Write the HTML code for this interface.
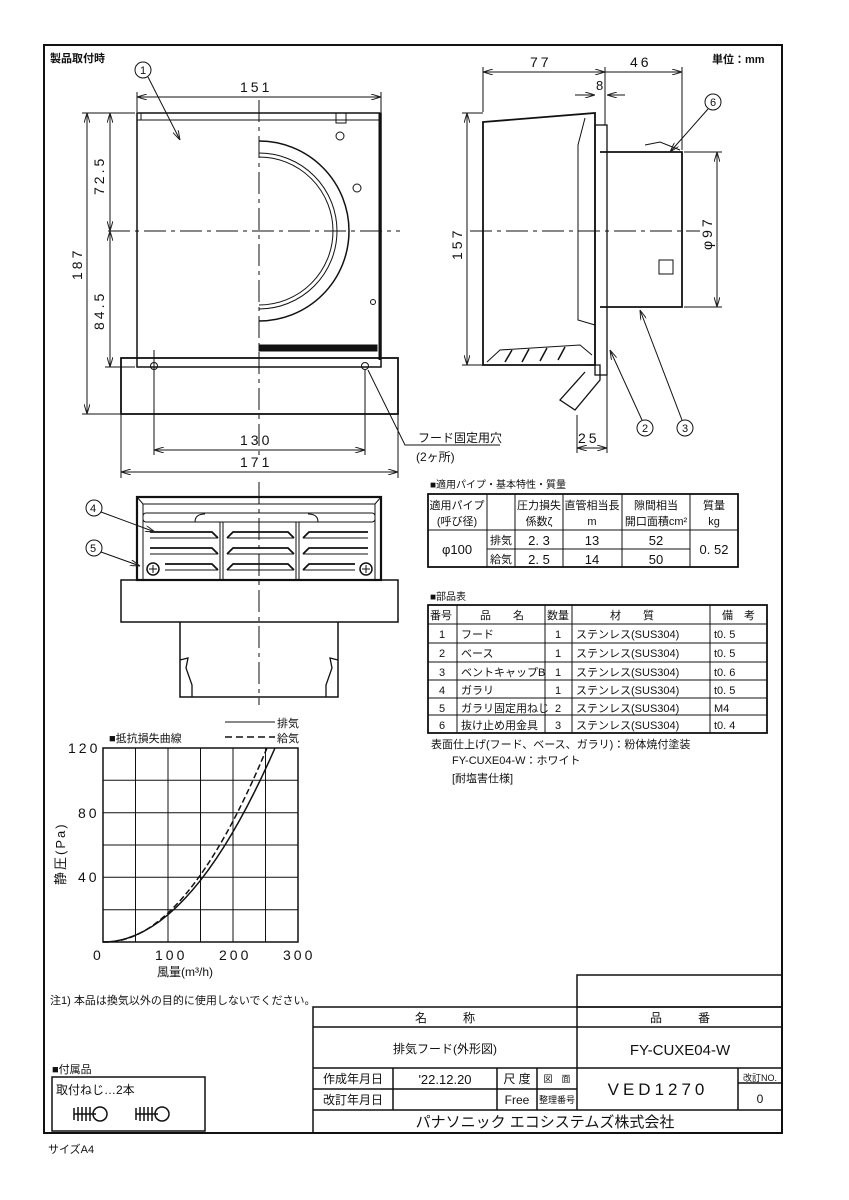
<!DOCTYPE html>
<html><head><meta charset="utf-8"><style>
html,body{margin:0;padding:0;background:#fff;}
svg{display:block;}
text{font-family:"Liberation Sans","Noto Sans CJK JP",sans-serif;fill:#111;}
.t{font-size:11px;}
.n{font-size:14px;letter-spacing:3px;}
</style></head><body>
<svg width="849" height="1200" viewBox="0 0 849 1200" xmlns="http://www.w3.org/2000/svg">
<defs>
<marker id="a" markerWidth="10" markerHeight="6" refX="10" refY="3" orient="auto-start-reverse" markerUnits="userSpaceOnUse"><path d="M0,0 L10,3 L0,6" fill="none" stroke="#222" stroke-width="1"/></marker>
</defs>
<g fill="none" stroke="#111">
<rect x="44" y="45" width="738" height="1088" stroke-width="2"/>
</g>
<text x="50" y="62" class="t" font-weight="bold">製品取付時</text>
<text x="712" y="63" class="t" font-weight="bold">単位：mm</text>

<!-- FRONT VIEW -->
<g fill="none" stroke="#111" stroke-width="1">
<rect x="137" y="113" width="244" height="254" stroke-width="1.5"/>
<line x1="137" y1="120" x2="381" y2="120"/>
<line x1="141" y1="113" x2="141" y2="120"/>
<line x1="380" y1="113" x2="380" y2="360" stroke-width="3"/>
<rect x="121" y="358" width="277" height="56" stroke-width="1.8"/>
<line x1="137" y1="367" x2="381" y2="367"/>
<path d="M259,141 A90,90 0 0 1 259,321" stroke-width="1.5"/>
<path d="M259,153 A78,78 0 0 1 259,309"/>
<path d="M259,157 A74,74 0 0 1 259,305"/>
<rect x="259" y="345" width="118" height="6" fill="#111"/>
<path d="M336,113 v10 h10 v-10"/>
<circle cx="340" cy="136" r="4"/><circle cx="357" cy="188" r="4"/><circle cx="373" cy="302" r="2.5"/>
<circle cx="154" cy="366" r="3.5"/><circle cx="365" cy="366" r="3.5"/>
<line x1="259" y1="100" x2="259" y2="460" stroke-dasharray="22,5,4,5"/>
<line x1="108" y1="231" x2="400" y2="231" stroke-dasharray="22,5,4,5"/>
<line x1="137" y1="97" x2="381" y2="97" marker-start="url(#a)" marker-end="url(#a)"/>
<line x1="137" y1="92" x2="137" y2="112"/><line x1="381" y1="92" x2="381" y2="112"/>
<line x1="154" y1="450" x2="365" y2="450" marker-start="url(#a)" marker-end="url(#a)"/>
<line x1="154" y1="350" x2="154" y2="455"/><line x1="365" y1="370" x2="365" y2="455"/>
<line x1="121" y1="472" x2="398" y2="472" marker-start="url(#a)" marker-end="url(#a)"/>
<line x1="121" y1="414" x2="121" y2="478"/><line x1="398" y1="414" x2="398" y2="478"/>
<line x1="87" y1="113" x2="87" y2="414" marker-start="url(#a)" marker-end="url(#a)"/>
<line x1="82" y1="113" x2="135" y2="113"/><line x1="82" y1="414" x2="120" y2="414"/>
<line x1="110" y1="113" x2="110" y2="231" marker-start="url(#a)" marker-end="url(#a)"/>
<line x1="110" y1="231" x2="110" y2="367" marker-start="url(#a)" marker-end="url(#a)"/>
<line x1="105" y1="367" x2="135" y2="367"/>
<circle cx="143" cy="70" r="8"/>
<line x1="148" y1="77" x2="180" y2="140" marker-end="url(#a)"/>
<polyline points="368,370 405,445 415,445 500,445"/>
</g>
<text x="140" y="74" font-size="11">1</text>
<text x="240" y="92" class="n">151</text>
<text x="240" y="445" class="n">130</text>
<text x="240" y="467" class="n">171</text>
<text transform="translate(82,280) rotate(-90)" class="n">187</text>
<text transform="translate(104,195) rotate(-90)" class="n">72.5</text>
<text transform="translate(104,330) rotate(-90)" class="n">84.5</text>
<text x="418" y="442" font-size="12">フード固定用穴</text>
<text x="416" y="461" font-size="12">(2ヶ所)</text>

<!-- SIDE VIEW -->
<g fill="none" stroke="#111" stroke-width="1">
<path d="M483,122 L595,113 L595,365 L483,365 Z" stroke-width="1.8"/>
<path d="M585,118 L578,145 L578,320 L595,325" />
<rect x="595" y="125" width="12" height="250" stroke-width="1.3"/>
<path d="M600,152 L682,152 L682,307 L600,307" stroke-width="1.8"/>
<rect x="659" y="260" width="14" height="14"/>
<path d="M487,362 L500,350 L580,345 L592,355" />
<path d="M505,362 L512,350 M522,362 L529,349 M540,361 L547,348 M558,360 L565,347" stroke-width="1.5"/>
<path d="M585,365 L600,365 L600,380 L575,410 L560,400 L585,372" stroke-width="1.3"/>
<path d="M645,145 L660,142 L680,150"/>
<line x1="470" y1="231" x2="700" y2="231" stroke-dasharray="22,5,4,5"/>
<line x1="483" y1="72" x2="605" y2="72" marker-start="url(#a)" marker-end="url(#a)"/>
<line x1="605" y1="72" x2="682" y2="72" marker-end="url(#a)"/>
<line x1="483" y1="67" x2="483" y2="112"/><line x1="605" y1="67" x2="605" y2="125"/><line x1="682" y1="67" x2="682" y2="150"/>
<line x1="575" y1="95" x2="595" y2="95" marker-end="url(#a)"/><line x1="625" y1="95" x2="607" y2="95" marker-end="url(#a)"/>
<line x1="467" y1="113" x2="467" y2="365" marker-start="url(#a)" marker-end="url(#a)"/>
<line x1="462" y1="113" x2="483" y2="113"/><line x1="462" y1="365" x2="483" y2="365"/>
<line x1="717" y1="152" x2="717" y2="307" marker-start="url(#a)" marker-end="url(#a)"/>
<line x1="684" y1="152" x2="722" y2="152"/><line x1="684" y1="307" x2="722" y2="307"/>
<line x1="577" y1="448" x2="607" y2="448" marker-start="url(#a)" marker-end="url(#a)"/>
<line x1="577" y1="415" x2="577" y2="453"/><line x1="607" y1="375" x2="607" y2="453"/>
<circle cx="713" cy="102" r="8"/><line x1="708" y1="109" x2="670" y2="152" marker-end="url(#a)"/>
<circle cx="645" cy="428" r="8"/><line x1="642" y1="420" x2="610" y2="350" marker-end="url(#a)"/>
<circle cx="685" cy="428" r="8"/><line x1="682" y1="420" x2="640" y2="310" marker-end="url(#a)"/>
</g>
<text x="710" y="106" font-size="11">6</text>
<text x="642" y="432" font-size="11">2</text>
<text x="682" y="432" font-size="11">3</text>
<text x="530" y="67" class="n">77</text>
<text x="630" y="67" class="n">46</text>
<text x="596" y="90" font-size="13">8</text>
<text x="578" y="443" class="n">25</text>
<text transform="translate(462,260) rotate(-90)" class="n">157</text>
<text transform="translate(712,250) rotate(-90)" class="n">φ97</text>

<!-- BOTTOM VIEW -->
<g fill="none" stroke="#111" stroke-width="1">
<rect x="137" y="497" width="244" height="83" stroke-width="2.2"/>
<path d="M137,497 L143,504 H375 L381,497 M143,504 V580 M375,504 V580"/>
<rect x="143" y="513" width="232" height="9" rx="3"/>
<line x1="220" y1="522" x2="220" y2="580"/><line x1="223" y1="522" x2="223" y2="580"/>
<line x1="296" y1="522" x2="296" y2="580"/><line x1="299" y1="522" x2="299" y2="580"/>
<g stroke-width="1.8">
<path d="M150,532 H212 L218,538 M227,538 L233,532 H288 L294,538 M303,538 L309,532 H368"/>
<path d="M150,548 H212 L218,554 M227,554 L233,548 H288 L294,554 M303,554 L309,548 H368"/>
<path d="M165,564 H212 L218,570 M227,570 L233,564 H288 L294,570 M303,570 L309,564 H355"/>
</g>
<path d="M150,538 H218 M227,538 H294 M303,538 H368 M150,554 H218 M227,554 H294 M303,554 H368 M165,570 H218 M227,570 H294 M303,570 H355"/>
<path d="M195,522 q0,-8 10,-8 M318,522 q0,-8 -10,-8"/>
<circle cx="153" cy="569" r="6" stroke-width="1.5"/><circle cx="366" cy="569" r="6" stroke-width="1.5"/>
<path d="M149,569h8M153,565v8M362,569h8M366,565v8"/>
<rect x="121" y="580" width="277" height="42" stroke-width="1.5"/>
<path d="M180,622 L180,697 L338,697 L338,622" stroke-width="1.5"/>
<path d="M180,660 L188,658 L186,668 L192,685 L192,697 M338,660 L330,658 L332,668 L326,685 L326,697" stroke-width="1.3"/>
<line x1="259" y1="482" x2="259" y2="705" stroke-dasharray="22,5,4,5"/>
<circle cx="94" cy="508" r="8"/><line x1="101" y1="512" x2="155" y2="532" marker-end="url(#a)"/>
<circle cx="94" cy="548" r="8"/><line x1="101" y1="552" x2="140" y2="566" marker-end="url(#a)"/>
</g>
<text x="90" y="512" font-size="11">4</text>
<text x="90" y="552" font-size="11">5</text>

<!-- GRAPH -->
<g fill="none" stroke="#111" stroke-width="1">
<rect x="103" y="748" width="195" height="194" stroke-width="1.5"/>
<path d="M135.5,748V942 M168,748V942 M200.5,748V942 M233,748V942 M265.5,748V942"/>
<path d="M103,780.3H298 M103,812.7H298 M103,845H298 M103,877.3H298 M103,909.7H298"/>
<path d="M103,942 Q190,942 275,748" stroke-width="1.5"/>
<path d="M103,942 Q185,945 267,748" stroke-width="1.5" stroke-dasharray="6,3"/>
<line x1="225" y1="722" x2="275" y2="722"/>
<line x1="225" y1="737" x2="275" y2="737" stroke-dasharray="7,4" stroke-width="1.5"/>
</g>
<text x="277" y="727" font-size="11">排気</text>
<text x="277" y="742" font-size="11">給気</text>
<text x="109" y="742" font-size="11">■抵抗損失曲線</text>
<text x="68" y="753" class="n">120</text>
<text x="78" y="818" class="n">80</text>
<text x="78" y="882" class="n">40</text>
<text x="93" y="960" class="n">0</text>
<text x="155" y="960" class="n">100</text>
<text x="219" y="960" class="n">200</text>
<text x="283" y="960" class="n">300</text>
<text transform="translate(65,885) rotate(-90)" font-size="13" letter-spacing="2">静圧(Pa)</text>
<text x="157" y="976" font-size="12">風量(m³/h)</text>
<text x="50" y="1004" font-size="11">注1) 本品は換気以外の目的に使用しないでください。</text>

<!-- TABLE 1 -->
<text x="430" y="488" font-size="10">■適用パイプ・基本特性・質量</text>
<g fill="none" stroke="#111" stroke-width="1">
<rect x="428" y="494" width="310" height="73" stroke-width="1.8"/>
<path d="M487,494V567 M515,494V567 M563,494V567 M622,494V567 M690,494V567"/>
<line x1="428" y1="530" x2="738" y2="530"/>
<line x1="487" y1="549" x2="690" y2="549"/>
</g>
<g font-size="11" text-anchor="middle">
<text x="457" y="509">適用パイプ</text><text x="457" y="525">(呼び径)</text>
<text x="539" y="509">圧力損失</text><text x="539" y="525">係数ζ</text>
<text x="592" y="509">直管相当長</text><text x="592" y="525">m</text>
<text x="656" y="509">隙間相当</text><text x="656" y="525">開口面積cm²</text>
<text x="714" y="509">質量</text><text x="714" y="525">kg</text>
<text x="457" y="554" font-size="13">φ100</text>
<text x="501" y="544">排気</text><text x="501" y="563">給気</text>
<text x="539" y="545" font-size="13">2. 3</text><text x="539" y="564" font-size="13">2. 5</text>
<text x="592" y="545" font-size="13">13</text><text x="592" y="564" font-size="13">14</text>
<text x="656" y="545" font-size="13">52</text><text x="656" y="564" font-size="13">50</text>
<text x="714" y="554" font-size="13">0. 52</text>
</g>

<!-- TABLE 2 -->
<text x="430" y="600" font-size="10">■部品表</text>
<g fill="none" stroke="#111" stroke-width="1">
<rect x="428" y="605" width="339" height="128" stroke-width="1.8"/>
<path d="M457,605V733 M545,605V733 M572,605V733 M710,605V733"/>
<path d="M428,624H767 M428,643H767 M428,662H767 M428,680H767 M428,698H767 M428,715H767"/>
</g>
<g font-size="11">
<text x="430" y="619">番号</text><text x="480" y="619">品　　名</text><text x="547" y="619">数量</text><text x="610" y="619">材　　質</text><text x="722" y="619">備　考</text>
<g text-anchor="middle"><text x="442" y="638">1</text><text x="442" y="657">2</text><text x="442" y="676">3</text><text x="442" y="694">4</text><text x="442" y="712">5</text><text x="442" y="729">6</text>
<text x="558" y="638">1</text><text x="558" y="657">1</text><text x="558" y="676">1</text><text x="558" y="694">1</text><text x="558" y="712">2</text><text x="558" y="729">3</text></g>
<text x="461" y="638">フード</text><text x="461" y="657">ベース</text><text x="461" y="676">ベントキャップB</text><text x="461" y="694">ガラリ</text><text x="461" y="712">ガラリ固定用ねじ</text><text x="461" y="729">抜け止め用金具</text>
<text x="576" y="638">ステンレス(SUS304)</text><text x="576" y="657">ステンレス(SUS304)</text><text x="576" y="676">ステンレス(SUS304)</text><text x="576" y="694">ステンレス(SUS304)</text><text x="576" y="712">ステンレス(SUS304)</text><text x="576" y="729">ステンレス(SUS304)</text>
<text x="714" y="638">t0. 5</text><text x="714" y="657">t0. 5</text><text x="714" y="676">t0. 6</text><text x="714" y="694">t0. 5</text><text x="714" y="712">M4</text><text x="714" y="729">t0. 4</text>
</g>
<text x="431" y="748" font-size="11">表面仕上げ(フード、ベース、ガラリ)：粉体焼付塗装</text>
<text x="452" y="764" font-size="11">FY-CUXE04-W：ホワイト</text>
<text x="452" y="782" font-size="11">[耐塩害仕様]</text>

<!-- TITLE BLOCK -->
<g fill="none" stroke="#111" stroke-width="1.5">
<rect x="577" y="975" width="205" height="32"/>
<rect x="313" y="1007" width="469" height="126"/>
<path d="M577,1007V1110 M313,1027H782 M313,1068H782 M313,1089H577 M313,1110H782"/>
<path d="M393,1068V1110 M497,1068V1110 M537,1068V1110 M738,1068V1110 M738,1083H782"/>
<rect x="52" y="1077" width="153" height="54"/>
</g>
<g font-size="12" text-anchor="middle">
<text x="445" y="1022">名　　　称</text>
<text x="680" y="1022">品　　　番</text>
<text x="445" y="1053">排気フード(外形図)</text>
<text x="680" y="1055" font-size="15">FY-CUXE04-W</text>
<text x="353" y="1083">作成年月日</text>
<text x="353" y="1104">改訂年月日</text>
<text x="445" y="1084" font-size="13">'22.12.20</text>
<text x="517" y="1083">尺 度</text>
<text x="517" y="1104">Free</text>
<text x="557" y="1082" font-size="9">図　面</text>
<text x="557" y="1103" font-size="9">整理番号</text>
<text x="658" y="1095" font-size="17" letter-spacing="4">VED1270</text>
<text x="760" y="1081" font-size="9">改訂NO.</text>
<text x="760" y="1103">0</text>
<text x="545" y="1127" font-size="15">パナソニック エコシステムズ株式会社</text>
</g>
<text x="52" y="1073" font-size="11">■付属品</text>
<text x="56" y="1094" font-size="12">取付ねじ…2本</text>
<g fill="none" stroke="#111" stroke-width="1.5">
<path d="M74,1114 h22"/><path d="M74,1108 v12 M78,1107 v14 M82,1107 v14 M86,1107 v14 M90,1107 v14"/>
<circle cx="100" cy="1114" r="7"/>
<path d="M136,1114 h22"/><path d="M136,1108 v12 M140,1107 v14 M144,1107 v14 M148,1107 v14 M152,1107 v14"/>
<circle cx="162" cy="1114" r="7"/>
</g>
<text x="48" y="1153" font-size="11">サイズA4</text>
</svg>
</body></html>
